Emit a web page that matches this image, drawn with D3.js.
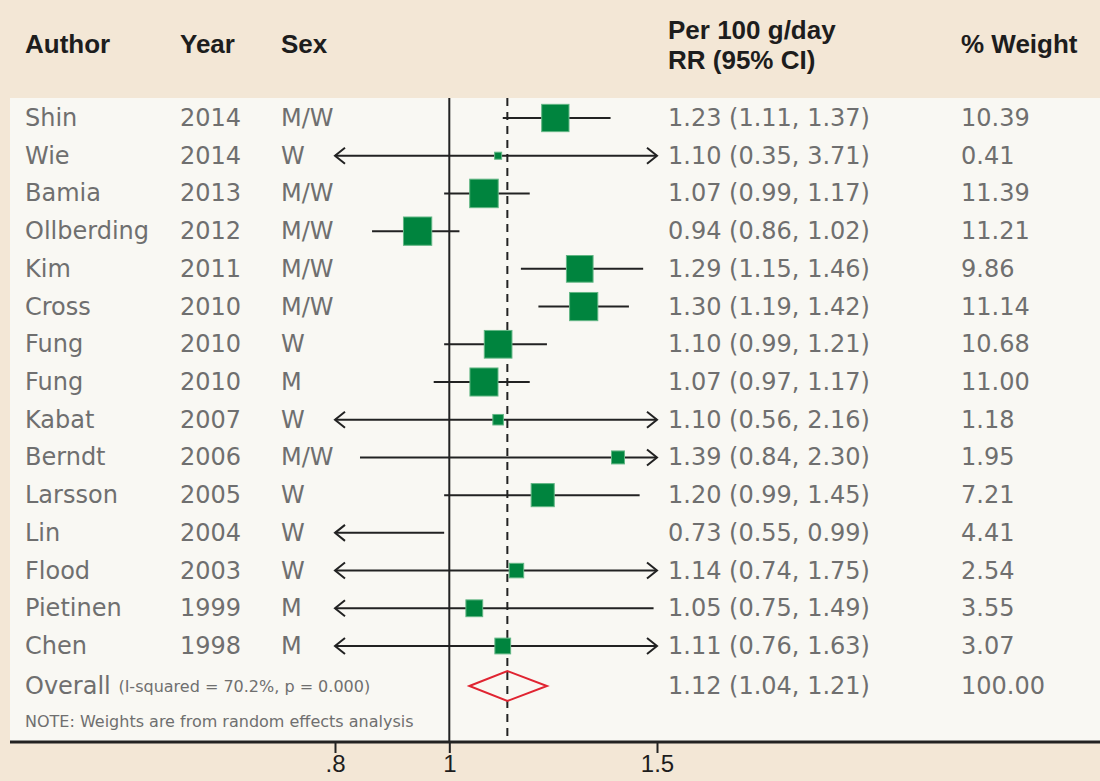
<!DOCTYPE html>
<html>
<head>
<meta charset="utf-8">
<script src="https://cdn.jsdelivr.net/npm/d3@7"></script>
<style>
  html, body { margin: 0; padding: 0; background: #f3e7d6; }
  svg { display: block; }
</style>
</head>
<body>
<svg id="chart"></svg>
<script>
// forest plot: per 100 g/day RR (95% CI)
const authors = ['Shin', 'Wie', 'Bamia', 'Ollberding', 'Kim', 'Cross', 'Fung', 'Fung',
  'Kabat', 'Berndt', 'Larsson', 'Lin', 'Flood', 'Pietinen', 'Chen'];
const years = [2014, 2014, 2013, 2012, 2011, 2010, 2010, 2010, 2007, 2006, 2005, 2004, 2003, 1999, 1998];
const sexes = ['M/W', 'W', 'M/W', 'M/W', 'M/W', 'M/W', 'W', 'M', 'W', 'M/W', 'W', 'W', 'W', 'M', 'M'];
const rr = [1.23, 1.10, 1.07, 0.94, 1.29, 1.30, 1.10, 1.07, 1.10, 1.39, 1.20, 0.73, 1.14, 1.05, 1.11];
const lo = [1.11, 0.35, 0.99, 0.86, 1.15, 1.19, 0.99, 0.97, 0.56, 0.84, 0.99, 0.55, 0.74, 0.75, 0.76];
const hi = [1.37, 3.71, 1.17, 1.02, 1.46, 1.42, 1.21, 1.17, 2.16, 2.30, 1.45, 0.99, 1.75, 1.49, 1.63];
const weights = [10.39, 0.41, 11.39, 11.21, 9.86, 11.14, 10.68, 11.00, 1.18, 1.95, 7.21, 4.41, 2.54, 3.55, 3.07];
const overall = { rr: 1.12, lo: 1.04, hi: 1.21, weight: 100.00 };
const xTicks = [0.8, 1, 1.5];
const xTickLabels = ['.8', '1', '1.5'];

const W = 1100, H = 781;
const BODY_FONT = 'DejaVu Sans, sans-serif';
const HEAD_FONT = '"Liberation Sans", Arial, sans-serif';
const GRAY = '#6f6f6f';
const INK = '#222';

const svg = d3.select('#chart').attr('width', W).attr('height', H);

const panel = { left: 10, top: 98, bottom: 742 };

// Scales
const x = d3.scaleLog().domain([0.8, 1.5]).range([335, 657]);
const rows = d3.range(authors.length);
const y = d3.scaleLinear().domain([0, authors.length - 1]).range([118, 646]);
const yOverall = 686;
const side = d3.scaleSqrt().domain([0, 11.39]).range([0, 26.5]);

// Backgrounds
svg.append('rect').attr('width', W).attr('height', H).attr('fill', '#f3e7d6');
svg.append('rect')
  .attr('x', panel.left).attr('y', panel.top)
  .attr('width', W - panel.left).attr('height', panel.bottom - panel.top)
  .attr('fill', '#f9f8f3');

// Header
const header = svg.append('g')
  .attr('font-family', HEAD_FONT).attr('font-weight', 'bold')
  .attr('font-size', 26).attr('fill', '#1d1d1d');
[['Author', 25, 53], ['Year', 180, 53], ['Sex', 281, 53],
 ['Per 100 g/day', 668, 39], ['RR (95% CI)', 668, 69], ['% Weight', 961, 53]]
  .forEach(([t, tx, ty]) => header.append('text').attr('x', tx).attr('y', ty).text(t));

// Reference lines
const domain = x.domain();
svg.append('line')
  .attr('x1', x(1)).attr('x2', x(1))
  .attr('y1', panel.top).attr('y2', panel.bottom)
  .attr('stroke', INK).attr('stroke-width', 2);
svg.append('line')
  .attr('x1', x(overall.rr)).attr('x2', x(overall.rr))
  .attr('y1', panel.top).attr('y2', panel.bottom)
  .attr('stroke', INK).attr('stroke-width', 2)
  .attr('stroke-dasharray', '8,6');

// CI lines with arrows where the interval leaves the axis
const ci = svg.append('g').attr('stroke', INK).attr('stroke-width', 2).attr('fill', 'none');
rows.forEach(i => {
  const yy = y(i);
  const l = Math.max(lo[i], domain[0]);
  const h = Math.min(hi[i], domain[1]);
  ci.append('line').attr('x1', x(l)).attr('x2', x(h)).attr('y1', yy).attr('y2', yy);
  if (lo[i] < domain[0]) {
    const ax = x(domain[0]);
    ci.append('path').attr('d', `M${ax + 10},${yy - 8}L${ax},${yy}L${ax + 10},${yy + 8}`);
  }
  if (hi[i] > domain[1]) {
    const ax = x(domain[1]);
    ci.append('path').attr('d', `M${ax - 10},${yy - 8}L${ax},${yy}L${ax - 10},${yy + 8}`);
  }
});

// Weight squares
svg.append('g').selectAll('rect')
  .data(rows.filter(i => rr[i] >= domain[0] && rr[i] <= domain[1]))
  .enter().append('rect')
  .attr('x', i => x(rr[i]) - (side(weights[i]) + 2) / 2)
  .attr('y', i => y(i) - (side(weights[i]) + 2) / 2)
  .attr('width', i => side(weights[i]) + 2)
  .attr('height', i => side(weights[i]) + 2)
  .attr('fill', '#00843e')
  .attr('stroke', '#62b684').attr('stroke-width', 1);

// Overall diamond
svg.append('path')
  .attr('d', `M${x(overall.lo)},${yOverall}L${x(overall.rr)},${yOverall - 15}` +
    `L${x(overall.hi)},${yOverall}L${x(overall.rr)},${yOverall + 15}Z`)
  .attr('fill', 'none').attr('stroke', '#e02431').attr('stroke-width', 2);

// Row text
const txt = svg.append('g').attr('font-family', BODY_FONT).attr('font-size', 24)
  .attr('fill', GRAY).attr('dominant-baseline', 'central');
const fmt = d3.format('.2f');
rows.forEach(i => {
  const yy = y(i);
  txt.append('text').attr('x', 25).attr('y', yy).text(authors[i]);
  txt.append('text').attr('x', 180).attr('y', yy).text(years[i]);
  txt.append('text').attr('x', 281).attr('y', yy).text(sexes[i]);
  txt.append('text').attr('x', 668).attr('y', yy)
    .text(`${fmt(rr[i])} (${fmt(lo[i])}, ${fmt(hi[i])})`);
  txt.append('text').attr('x', 961).attr('y', yy).text(fmt(weights[i]));
});

const ov = txt.append('text').attr('x', 25).attr('y', yOverall);
ov.append('tspan').text('Overall ');
ov.append('tspan').attr('font-size', 16).text('(I-squared = 70.2%, p = 0.000)');
txt.append('text').attr('x', 668).attr('y', yOverall)
  .text(`${fmt(overall.rr)} (${fmt(overall.lo)}, ${fmt(overall.hi)})`);
txt.append('text').attr('x', 961).attr('y', yOverall).text(fmt(overall.weight));
txt.append('text').attr('x', 25).attr('y', 721).attr('font-size', 16)
  .text('NOTE: Weights are from random effects analysis');

// Axis
const axis = d3.axisBottom(x)
  .tickValues(xTicks)
  .tickFormat((d, i) => xTickLabels[i])
  .tickSize(11).tickPadding(7);
const ax = svg.append('g').attr('transform', `translate(0,${panel.bottom})`).call(axis);
ax.select('.domain').remove();
ax.selectAll('.tick line').attr('stroke', INK).attr('stroke-width', 2);
ax.selectAll('.tick text')
  .attr('y', 30).attr('dy', 0)
  .attr('font-family', HEAD_FONT).attr('font-size', 24).attr('fill', '#1d1d1d');
svg.append('line')
  .attr('x1', panel.left).attr('x2', W)
  .attr('y1', panel.bottom).attr('y2', panel.bottom)
  .attr('stroke', INK).attr('stroke-width', 3);
</script>
</body>
</html>
